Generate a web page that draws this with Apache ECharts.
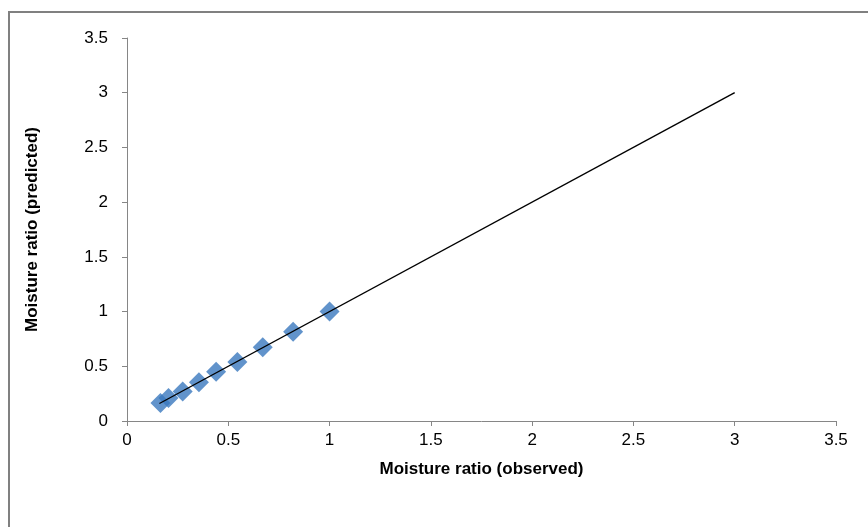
<!DOCTYPE html>
<html><head><meta charset="utf-8">
<script src="https://cdn.jsdelivr.net/npm/echarts@6/dist/echarts.min.js"></script>
<style>html,body{margin:0;padding:0;background:#fff;}#c{width:868px;height:527px;}</style>
</head><body><div id="c"></div>
<script>
var observed = [0.165, 0.205, 0.275, 0.355, 0.44, 0.545, 0.67, 0.82, 1.0];
var predicted = [0.165, 0.21, 0.27, 0.355, 0.45, 0.54, 0.675, 0.815, 1.0];
var lineX = [0.16, 3.0];
var lineY = [0.16, 3.0];
var xTitle = 'Moisture ratio (observed)';
var yTitle = 'Moisture ratio (predicted)';

var pts = observed.map(function(v, i){ return [v, predicted[i]]; });
var ln = lineX.map(function(v, i){ return [v, lineY[i]]; });
var font = '"Liberation Sans", Arial, sans-serif';
var chart = echarts.init(document.getElementById('c'));
chart.setOption({
  animation: false,
  grid: {left: 127, right: 32, top: 38, bottom: 106},
  graphic: [{type:'rect', shape:{x:9, y:12, width:900, height:600}, style:{fill:'none', stroke:'#808080', lineWidth:2}, silent:true}],
  xAxis: {
    type:'value', min:0, max:3.5, interval:0.5,
    name: xTitle, nameLocation:'middle', nameGap:40,
    nameTextStyle:{fontFamily:font, fontWeight:'bold', fontSize:17, color:'#000'},
    axisLine:{show:true, lineStyle:{color:'#868686', width:1}},
    axisTick:{show:true, length:5, lineStyle:{color:'#868686'}},
    axisLabel:{fontFamily:font, fontSize:17, color:'#000', margin:11},
    splitLine:{show:false}
  },
  yAxis: {
    type:'value', min:0, max:3.5, interval:0.5,
    name: yTitle, nameLocation:'middle', nameGap:86, nameRotate:90,
    nameTextStyle:{fontFamily:font, fontWeight:'bold', fontSize:17, color:'#000'},
    axisLine:{show:true, lineStyle:{color:'#868686', width:1}},
    axisTick:{show:true, length:5, lineStyle:{color:'#868686'}},
    axisLabel:{fontFamily:font, fontSize:17, color:'#000', margin:19},
    splitLine:{show:false}
  },
  series: [
    {type:'scatter', data: pts, symbol:'path://M0,-1L1,0L0,1L-1,0Z', symbolSize:20,
     itemStyle:{color:'#3a78be'}, z:2},
    {type:'line', data: ln, symbol:'none', lineStyle:{color:'#000', width:1.4}, z:3}
  ]
});
</script></body></html>
